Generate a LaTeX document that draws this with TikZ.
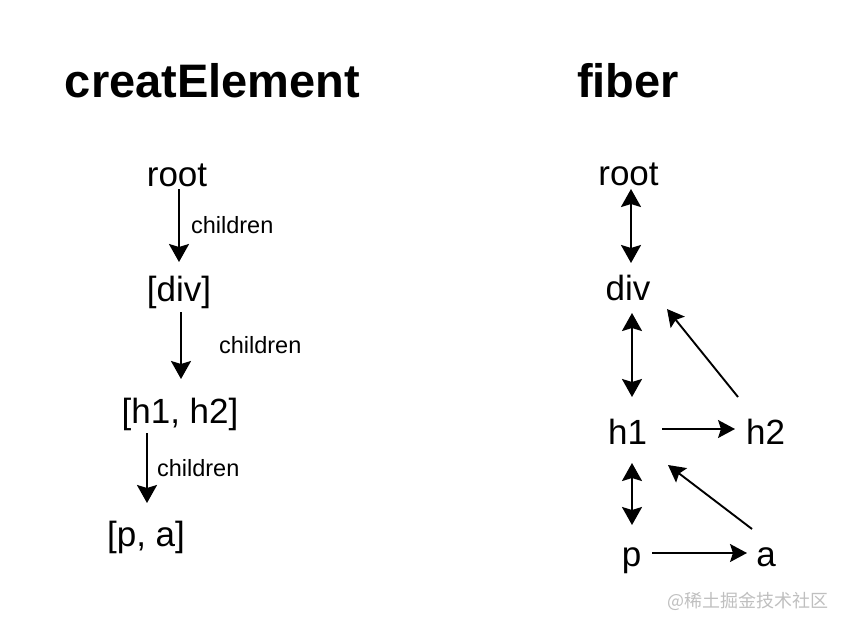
\documentclass[tikz,border=0pt]{standalone}
\usepackage{fontspec}
\setmainfont{Liberation Sans}
\newfontfamily\cjk{Noto Sans CJK SC}
\usepackage{tikz}
\usetikzlibrary{positioning,calc,arrows.meta}
\tikzset{>={Stealth[length=18pt,width=20pt,inset=3pt]}}

\begin{document}
\begin{tikzpicture}[x=1pt,y=-1pt,
  title/.style={font=\fontsize{47}{47}\selectfont\bfseries,inner sep=0pt,anchor=base},
  word/.style={font=\fontsize{35}{35}\selectfont,inner sep=0pt,anchor=base},
  lbl/.style={font=\fontsize{23.5}{23.5}\selectfont,inner sep=0pt},
  kid/.style={-{Stealth[length=18pt,width=20pt,inset=3pt]},line width=2.2pt},
  link/.style={{Stealth[length=18pt,width=20pt,inset=3pt]}-{Stealth[length=18pt,width=20pt,inset=3pt]},line width=2.2pt},
  sib/.style={-{Stealth[length=17pt,width=18pt,inset=3pt]},line width=1.9pt}]
\useasboundingbox (0,0) rectangle (848,630);

% Titles
\node[title] (ttl1) at (212.5,97) {creatElement};
\node[title] (ttl2) at (628,97) {fiber};

% createElement tree
\node[word] (lroot) at (177,186) {root};
\node[word] (ldiv) at (179,301) {[div]};
\node[word] (lh) at (180,423) {[h1, h2]};
\node[word] (lpa) at (146,546) {[p, a]};

\draw[kid] ($(lroot.base)+(2,3)$) -- node[lbl,right=11pt] (lab1) {children} ($(ldiv.base)+(0,-39)$);
\draw[kid] ($(ldiv.base)+(2,11)$) -- node[lbl,right=37pt] (lab2) {children} ($(lh.base)+(1,-44)$);
\draw[kid] ($(lh.base)+(-33,10)$) -- node[lbl,right=9pt] (lab3) {children} ($(lpa.base)+(1,-43)$);

% fiber tree
\node[word] (froot) at (628.5,185) {root};
\node[word] (fdiv) at (628,300) {div};
\node[word] (fh1) at (627.5,444) {h1};
\node[word] (fh2) at (765.5,444) {h2};
\node[word] (fp) at (631.5,566) {p};
\node[word] (fa) at (766,566) {a};

% return and child links
\draw[link] ($(froot.base)+(2.5,4)$) -- ($(fdiv.base)+(3,-37)$);
\draw[link] ($(fdiv.base)+(4,13)$) -- ($(fh1.base)+(4.5,-47)$);
\draw[link] ($(fh1.base)+(4.5,19)$) -- ($(fp.base)+(0.5,-41)$);

% sibling links
\draw[sib] ($(fh1.base)+(34.5,-15)$) -- ($(fh2.base)+(-30.5,-15)$);
\draw[sib] ($(fp.base)+(20.5,-13)$) -- ($(fa.base)+(-19,-13)$);

% return links of the siblings
\draw[sib] ($(fh2.base)+(-27.5,-47)$) -- ($(fdiv.base)+(39,9)$);
\draw[sib] ($(fa.base)+(-14,-37)$) -- ($(fh1.base)+(40.5,21)$);

% Watermark
\node[font=\cjk\fontsize{18}{18}\selectfont,text=black!25,inner sep=0pt] (mark) at (748,601) {@稀土掘金技术社区};
\end{tikzpicture}
\end{document}
